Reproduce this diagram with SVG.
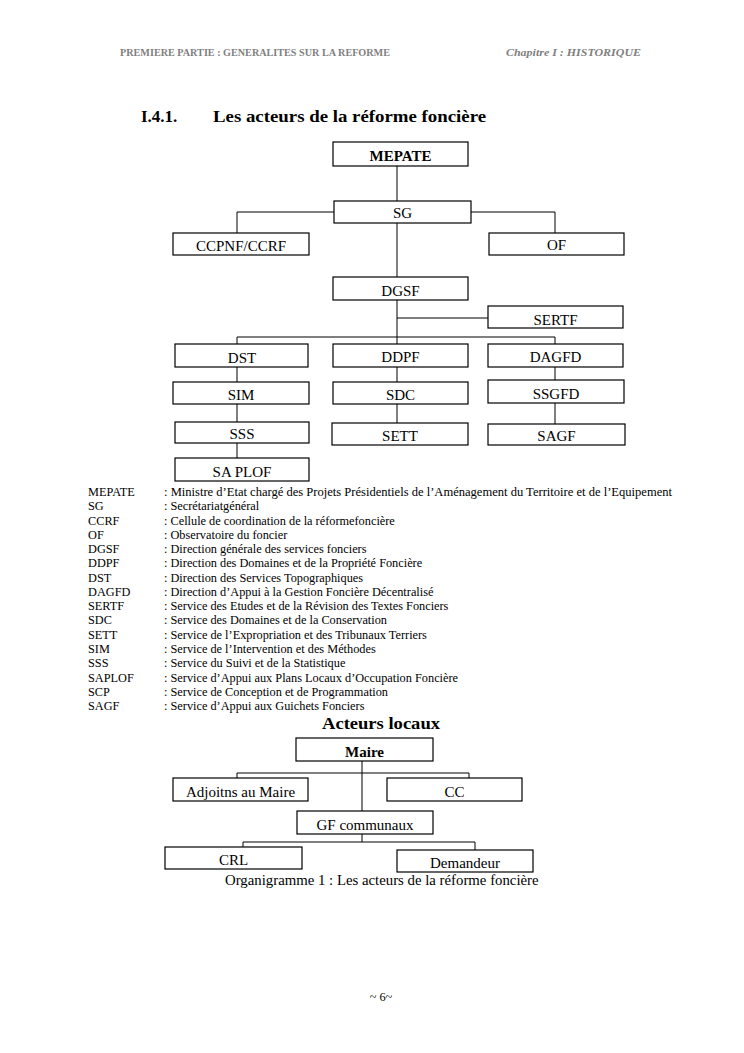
<svg xmlns="http://www.w3.org/2000/svg" width="744" height="1053" viewBox="0 0 744 1053">
<style>
.bg{fill:#ffffff}
.box{fill:#ffffff;stroke:#000000;stroke-width:1.2}
.conn{fill:none;stroke:#000000;stroke-width:1}
.lbl{font-family:"Liberation Serif","Times New Roman",serif;font-size:15px;fill:#000;text-anchor:middle}
.bold{font-weight:bold}
.hd{font-family:"Liberation Serif","Times New Roman",serif;font-size:10px;font-weight:bold;fill:#7f7f7f}
.ttl{font-family:"Liberation Serif","Times New Roman",serif;font-size:17px;font-weight:bold;fill:#000}
.lg{font-family:"Liberation Serif","Times New Roman",serif;font-size:12.3px;fill:#000}
.cap{font-family:"Liberation Serif","Times New Roman",serif;font-size:14.8px;fill:#000}
</style>
<rect class="bg" x="0" y="0" width="744" height="1053"/>

<text class="hd" x="120" y="56" textLength="270" lengthAdjust="spacingAndGlyphs">PREMIERE PARTIE : GENERALITES SUR LA REFORME</text>
<text class="hd" x="506" y="56" font-style="italic" textLength="135" lengthAdjust="spacingAndGlyphs">Chapitre I : HISTORIQUE</text>

<text class="ttl" x="141" y="122">I.4.1.</text>
<text class="ttl" x="213" y="122" textLength="273" lengthAdjust="spacingAndGlyphs">Les acteurs de la réforme foncière</text>

<g id="connectors">
  <path class="conn" d="M397 166V201"/>
  <path class="conn" d="M334 212H237V233"/>
  <path class="conn" d="M471 212H555V233"/>
  <path class="conn" d="M397 223V277"/>
  <path class="conn" d="M397 300V344"/>
  <path class="conn" d="M397 318H488"/>
  <path class="conn" d="M237 344V337H555V344"/>
  <path class="conn" d="M237 367V382M237 404V422M237 443V458"/>
  <path class="conn" d="M397 367V382M397 404V423"/>
  <path class="conn" d="M555 367V380M555 403V424"/>
  <path class="conn" d="M362 761V811"/>
  <path class="conn" d="M237 778V773H469V778"/>
  <path class="conn" d="M362 834V842"/>
  <path class="conn" d="M243 847V842H475V850"/>
</g>

<g font-family="Liberation Serif, Times New Roman, serif">
<g id="n-mepate"><rect class="box" x="333" y="142" width="135" height="24"/><text class="lbl bold" x="400.5" y="161">MEPATE</text></g>
<g id="n-sg"><rect class="box" x="334" y="201" width="137" height="22"/><text class="lbl" x="402.5" y="218">SG</text></g>
<g id="n-ccpnf"><rect class="box" x="173" y="233" width="136" height="22"/><text class="lbl" x="241" y="251">CCPNF/CCRF</text></g>
<g id="n-of"><rect class="box" x="489" y="233" width="135" height="22"/><text class="lbl" x="556.5" y="250">OF</text></g>
<g id="n-dgsf"><rect class="box" x="333" y="277" width="135" height="23"/><text class="lbl" x="400.5" y="296">DGSF</text></g>
<g id="n-sertf"><rect class="box" x="488" y="306" width="135" height="22"/><text class="lbl" x="555.5" y="325">SERTF</text></g>
<g id="n-dst"><rect class="box" x="175" y="344" width="133" height="23"/><text class="lbl" x="242" y="363">DST</text></g>
<g id="n-ddpf"><rect class="box" x="333" y="344" width="135" height="23"/><text class="lbl" x="400.5" y="362">DDPF</text></g>
<g id="n-dagfd"><rect class="box" x="488" y="344" width="135" height="23"/><text class="lbl" x="555.5" y="362">DAGFD</text></g>
<g id="n-sim"><rect class="box" x="173" y="382" width="136" height="22"/><text class="lbl" x="241" y="400">SIM</text></g>
<g id="n-sdc"><rect class="box" x="333" y="382" width="135" height="22"/><text class="lbl" x="400.5" y="400">SDC</text></g>
<g id="n-ssgfd"><rect class="box" x="488" y="380" width="136" height="23"/><text class="lbl" x="556" y="399">SSGFD</text></g>
<g id="n-sss"><rect class="box" x="175" y="422" width="134" height="21"/><text class="lbl" x="242" y="439">SSS</text></g>
<g id="n-sett"><rect class="box" x="332" y="423" width="136" height="22"/><text class="lbl" x="400" y="441">SETT</text></g>
<g id="n-sagf"><rect class="box" x="488" y="424" width="137" height="21"/><text class="lbl" x="556.5" y="441">SAGF</text></g>
<g id="n-saplof"><rect class="box" x="175" y="458" width="134" height="23"/><text class="lbl" x="242" y="477">SA PLOF</text></g>
</g>

<g id="legend" class="lg">
  <text x="88" y="496">MEPATE</text><text x="164" y="496" textLength="508" lengthAdjust="spacingAndGlyphs">: Ministre d’Etat chargé des Projets Présidentiels de l’Aménagement du Territoire et de l’Equipement</text>
  <text x="88" y="510.3">SG</text><text x="164" y="510.3">: Secrétariatgénéral</text>
  <text x="88" y="524.5">CCRF</text><text x="164" y="524.5">: Cellule de coordination de la réformefoncière</text>
  <text x="88" y="538.8">OF</text><text x="164" y="538.8">: Observatoire du foncier</text>
  <text x="88" y="553.1">DGSF</text><text x="164" y="553.1">: Direction générale des services fonciers</text>
  <text x="88" y="567.4">DDPF</text><text x="164" y="567.4">: Direction des Domaines et de la Propriété Foncière</text>
  <text x="88" y="581.6">DST</text><text x="164" y="581.6">: Direction des Services Topographiques</text>
  <text x="88" y="595.9">DAGFD</text><text x="164" y="595.9">: Direction d’Appui à la Gestion Foncière Décentralisé</text>
  <text x="88" y="610.2">SERTF</text><text x="164" y="610.2">: Service des Etudes et de la Révision des Textes Fonciers</text>
  <text x="88" y="624.4">SDC</text><text x="164" y="624.4">: Service des Domaines et de la Conservation</text>
  <text x="88" y="638.7">SETT</text><text x="164" y="638.7">: Service de l’Expropriation et des Tribunaux Terriers</text>
  <text x="88" y="653">SIM</text><text x="164" y="653">: Service de l’Intervention et des Méthodes</text>
  <text x="88" y="667.2">SSS</text><text x="164" y="667.2">: Service du Suivi et de la Statistique</text>
  <text x="88" y="681.5">SAPLOF</text><text x="164" y="681.5">: Service d’Appui aux Plans Locaux d’Occupation Foncière</text>
  <text x="88" y="695.8">SCP</text><text x="164" y="695.8">: Service de Conception et de Programmation</text>
  <text x="88" y="710">SAGF</text><text x="164" y="710">: Service d’Appui aux Guichets Fonciers</text>
</g>

<text class="ttl" x="322" y="729" textLength="118" lengthAdjust="spacingAndGlyphs">Acteurs locaux</text>

<g font-family="Liberation Serif, Times New Roman, serif">
<g id="n-maire"><rect class="box" x="296" y="738" width="137" height="23"/><text class="lbl bold" x="364.5" y="757">Maire</text></g>
<g id="n-adjoints"><rect class="box" x="173" y="778" width="135" height="23"/><text class="lbl" x="240.5" y="797">Adjoitns au Maire</text></g>
<g id="n-cc"><rect class="box" x="387" y="778" width="135" height="23"/><text class="lbl" x="454.5" y="797">CC</text></g>
<g id="n-gf"><rect class="box" x="297" y="811" width="136" height="23"/><text class="lbl" x="365" y="830">GF communaux</text></g>
<g id="n-crl"><rect class="box" x="165" y="847" width="137" height="22"/><text class="lbl" x="233.5" y="865">CRL</text></g>
<g id="n-demandeur"><rect class="box" x="397" y="850" width="136" height="22"/><text class="lbl" x="465" y="868">Demandeur</text></g>
</g>

<text class="cap" x="225" y="885">Organigramme 1 : Les acteurs de la réforme foncière</text>

<text class="lg" x="381" y="1001" text-anchor="middle">~ 6~</text>
</svg>
